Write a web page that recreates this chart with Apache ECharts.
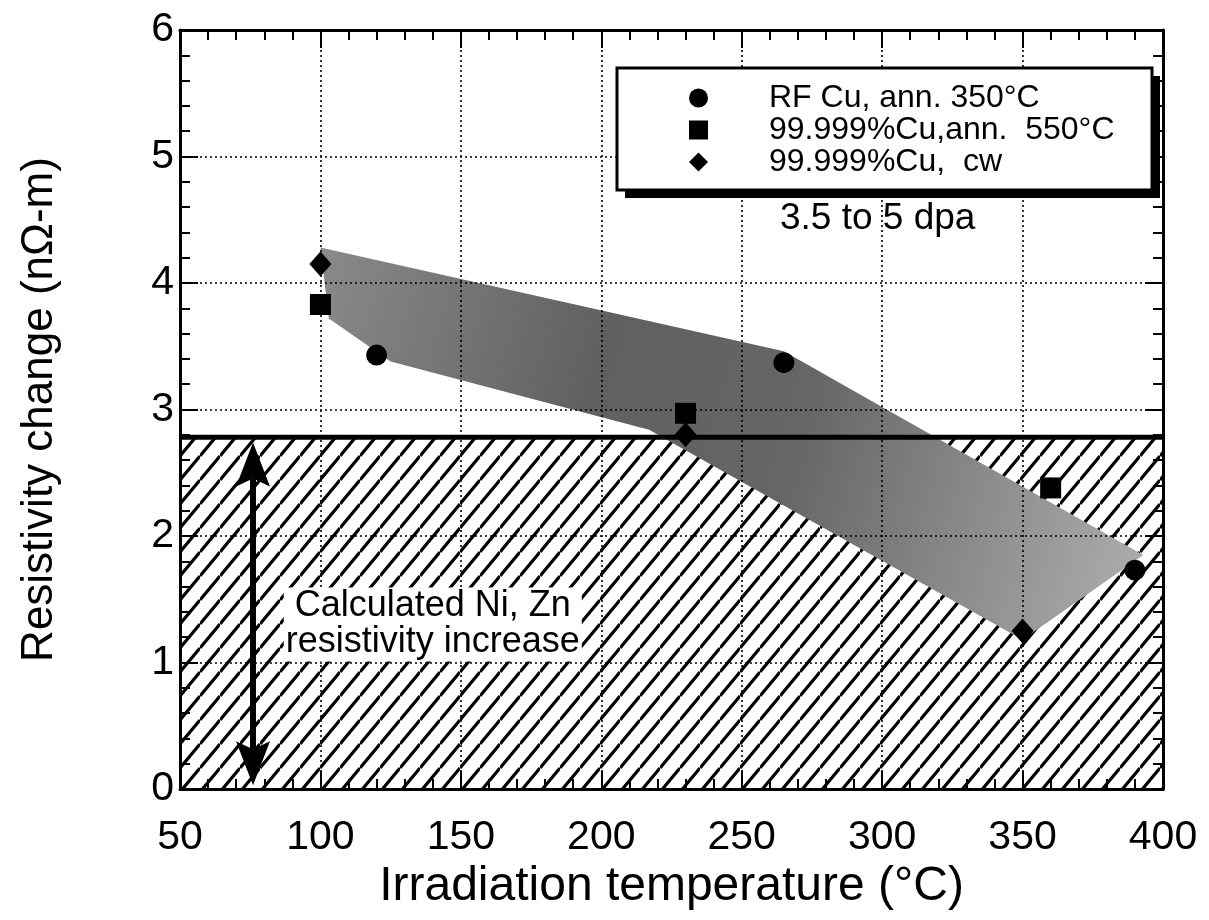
<!DOCTYPE html>
<html lang="en">
<head>
    <meta charset="UTF-8">
    <title>Resistivity change vs irradiation temperature</title>
    <style>
        html, body { margin: 0; padding: 0; background: #fff; }
        #J-chart { width: 1209px; height: 920px; }
    </style>
</head>
<body>
<div id="J-chart"></div>
<script src="https://cdn.jsdelivr.net/npm/echarts@6/dist/echarts.min.js"></script>
<script>
    // data
    var rfCuX = [120, 265, 390];
    var rfCuY = [3.43, 3.37, 1.73];
    var ann550X = [100, 230, 360];
    var ann550Y = [3.83, 2.97, 2.38];
    var cwX = [100, 230, 350];
    var cwY = [4.15, 2.8, 1.25];

    // grey scatter band (polygon corners)
    var bandX = [100, 265, 393, 350, 217, 125, 103];
    var bandY = [4.28, 3.46, 1.85, 1.18, 2.84, 3.38, 3.72];

    // calculated Ni, Zn level and arrow
    var hatchTop = 2.78;
    var hatchX = [50, 400];
    var arrowX = 76;
    var arrowY = [2.74, 0.03];
    var noteAt = [140, 1.3];

    var xTicks = [50, 400, 50];
    var yTicks = [0, 6, 1];

    var FONT = '"Liberation Sans", Arial, Helvetica, sans-serif';
    var names = ['RF Cu, ann. 350°C', '99.999%Cu,ann.  550°C', '99.999%Cu,  cw'];

    function makeHatch() {
        var w = 20, h = 24;
        var c = document.createElement('canvas');
        c.width = w;
        c.height = h;
        var ctx = c.getContext('2d');
        ctx.fillStyle = '#fff';
        ctx.fillRect(0, 0, w, h);
        ctx.strokeStyle = '#000';
        ctx.lineWidth = 3.2;
        ctx.beginPath();
        [-1, 0, 1].forEach(function (m) {
            ctx.moveTo(0, h + m * h);
            ctx.lineTo(w, m * h);
        });
        ctx.stroke();
        return c;
    }

    function zip(xs, ys) {
        return xs.map(function (x, i) { return [x, ys[i]]; });
    }

    function axisX(pos, showLabel) {
        return {
            type: 'value',
            position: pos,
            min: xTicks[0],
            max: xTicks[1],
            interval: xTicks[2],
            z: 3,
            axisLine: { show: true, onZero: false, lineStyle: { color: '#000', width: 3 } },
            axisTick: { show: true, inside: true, length: 18, lineStyle: { color: '#000', width: 2 } },
            minorTick: { show: true, splitNumber: 5, length: 10, lineStyle: { color: '#000', width: 2 } },
            splitLine: { show: showLabel, lineStyle: { type: [2, 3], color: '#000', width: 1.6 } },
            axisLabel: { show: showLabel, fontSize: 41, margin: 28, color: '#000', fontFamily: FONT }
        };
    }

    function axisY(pos, showLabel) {
        return {
            type: 'value',
            position: pos,
            min: yTicks[0],
            max: yTicks[1],
            interval: yTicks[2],
            z: 3,
            axisLine: { show: true, onZero: false, lineStyle: { color: '#000', width: 3 } },
            axisTick: { show: true, inside: true, length: 18, lineStyle: { color: '#000', width: 2 } },
            minorTick: { show: true, splitNumber: 5, length: 10, lineStyle: { color: '#000', width: 2 } },
            splitLine: { show: showLabel, lineStyle: { type: [2, 3], color: '#000', width: 1.6 } },
            axisLabel: { show: showLabel, fontSize: 41, margin: 6, color: '#000', fontFamily: FONT }
        };
    }

    var chart = echarts.init(document.getElementById('J-chart'));
    var hatch = { image: makeHatch(), repeat: 'repeat' };

    var xBottom = axisX('bottom', true);
    xBottom.name = 'Irradiation temperature (°C)';
    xBottom.nameLocation = 'middle';
    xBottom.nameGap = 68;
    xBottom.nameTextStyle = { fontSize: 48, color: '#000', fontFamily: FONT };

    var yLeft = axisY('left', true);
    yLeft.name = 'Resistivity change (nΩ-m)';
    yLeft.nameLocation = 'middle';
    yLeft.nameGap = 118;
    yLeft.nameTextStyle = { fontSize: 44, color: '#000', fontFamily: FONT };

    var option = {
        backgroundColor: '#fff',
        animation: false,
        grid: { left: 180, right: 46, top: 30, bottom: 131 },
        xAxis: [xBottom, axisX('top', false)],
        yAxis: [yLeft, axisY('right', false)],
        legend: {
            data: names,
            orient: 'vertical',
            left: 689,
            top: 82,
            z: 11,
            padding: 0,
            itemWidth: 19,
            itemHeight: 19,
            itemGap: 0,
            selectedMode: false,
            textStyle: { fontSize: 32, lineHeight: 30, color: '#000', fontFamily: FONT, padding: [0, 0, 0, 56] }
        },
        graphic: [
            {
                type: 'rect',
                z: 10,
                shape: { x: 625, y: 76, width: 535, height: 122 },
                style: { fill: '#000' }
            },
            {
                type: 'rect',
                z: 10,
                shape: { x: 617, y: 68, width: 535, height: 122 },
                style: { fill: '#fff', stroke: '#000', lineWidth: 3 }
            },
            {
                type: 'text',
                left: 780,
                top: 200,
                z: 10,
                style: { text: '3.5 to 5 dpa', fontSize: 37, fill: '#000', fontFamily: FONT }
            }
        ],
        series: [
            {
                type: 'custom',
                name: 'hatch',
                z: 1,
                silent: true,
                data: [[hatchX[0], hatchX[1], hatchTop]],
                renderItem: function (params, api) {
                    var p0 = api.coord([api.value(0), api.value(2)]);
                    var p1 = api.coord([api.value(1), 0]);
                    return {
                        type: 'rect',
                        shape: { x: p0[0], y: p0[1], width: p1[0] - p0[0], height: p1[1] - p0[1] },
                        style: { fill: hatch }
                    };
                }
            },
            {
                type: 'custom',
                name: 'band',
                z: 2,
                silent: true,
                data: zip(bandX, bandY),
                renderItem: function (params, api) {
                    if (params.dataIndex !== 0) {
                        return null;
                    }
                    var pts = bandX.map(function (x, i) { return api.coord([x, bandY[i]]); });
                    return {
                        type: 'polygon',
                        shape: { points: pts },
                        style: {
                            fill: new echarts.graphic.LinearGradient(0, 0, 1, 0.6, [
                                { offset: 0, color: '#8a8a8a' },
                                { offset: 0.35, color: '#606060' },
                                { offset: 0.6, color: '#666' },
                                { offset: 1, color: '#a8a8a8' }
                            ])
                        }
                    };
                }
            },
            {
                type: 'custom',
                name: 'level',
                z: 4,
                silent: true,
                data: [[hatchX[0], hatchX[1], hatchTop]],
                renderItem: function (params, api) {
                    var a = api.coord([api.value(0), api.value(2)]);
                    var b = api.coord([api.value(1), api.value(2)]);
                    return {
                        type: 'line',
                        shape: { x1: a[0], y1: a[1], x2: b[0], y2: b[1] },
                        style: { stroke: '#000', lineWidth: 5 }
                    };
                }
            },
            {
                type: 'custom',
                name: 'arrow',
                z: 4,
                silent: true,
                data: [[arrowX, arrowY[0], arrowY[1]]],
                renderItem: function (params, api) {
                    var t = api.coord([api.value(0), api.value(1)]);
                    var b = api.coord([api.value(0), api.value(2)]);
                    var hl = 44, hw = 17, notch = 8;
                    return {
                        type: 'group',
                        children: [
                            {
                                type: 'line',
                                shape: { x1: t[0], y1: t[1] + hl - notch, x2: b[0], y2: b[1] - hl + notch },
                                style: { stroke: '#000', lineWidth: 6 }
                            },
                            {
                                type: 'polygon',
                                shape: { points: [[t[0], t[1]], [t[0] + hw, t[1] + hl], [t[0], t[1] + hl - notch], [t[0] - hw, t[1] + hl]] },
                                style: { fill: '#000' }
                            },
                            {
                                type: 'polygon',
                                shape: { points: [[b[0], b[1]], [b[0] + hw, b[1] - hl], [b[0], b[1] - hl + notch], [b[0] - hw, b[1] - hl]] },
                                style: { fill: '#000' }
                            }
                        ]
                    };
                }
            },
            {
                type: 'scatter',
                name: names[0],
                z: 5,
                symbol: 'circle',
                symbolSize: 21,
                itemStyle: { color: '#000', opacity: 1 },
                data: zip(rfCuX, rfCuY)
            },
            {
                type: 'scatter',
                name: names[1],
                z: 5,
                symbol: 'rect',
                symbolSize: 21,
                itemStyle: { color: '#000', opacity: 1 },
                data: zip(ann550X, ann550Y)
            },
            {
                type: 'scatter',
                name: names[2],
                z: 5,
                symbol: 'diamond',
                symbolSize: [22, 25],
                itemStyle: { color: '#000', opacity: 1 },
                data: zip(cwX, cwY)
            },
            {
                type: 'scatter',
                name: 'note',
                z: 5,
                silent: true,
                symbolSize: 1,
                itemStyle: { color: '#fff', opacity: 1 },
                data: [noteAt],
                label: {
                    show: true,
                    position: 'inside',
                    formatter: 'Calculated Ni, Zn\nresistivity increase',
                    fontSize: 36,
                    lineHeight: 36,
                    color: '#000',
                    opacity: 1,
                    fontFamily: FONT,
                    backgroundColor: '#fff',
                    padding: [2, 2, 0, 2]
                }
            }
        ]
    };

    chart.setOption(option);
</script>
</body>
</html>
